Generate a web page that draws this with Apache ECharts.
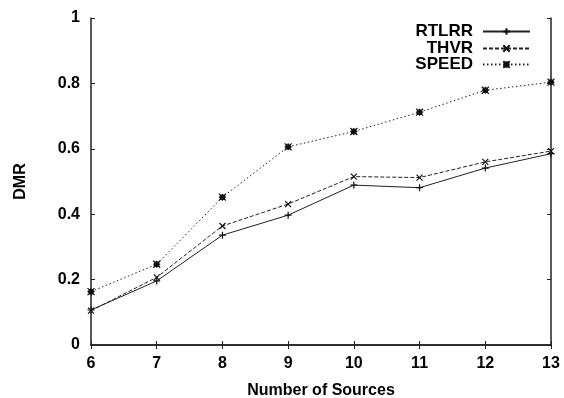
<!DOCTYPE html>
<html>
<head>
<meta charset="utf-8">
<script src="https://cdn.jsdelivr.net/npm/echarts@6/dist/echarts.min.js"></script>
<style>
  html, body { margin: 0; padding: 0; background: #fff; }
  #chart { width: 564px; height: 398px; }
</style>
</head>
<body>
<div id="chart"></div>
<script>
// Number of sources on the x axis
const sources = [6, 7, 8, 9, 10, 11, 12, 13];
// DMR per scheme
const rtlrr = [0.107, 0.196, 0.336, 0.397, 0.489, 0.481, 0.541, 0.585];
const thvr  = [0.105, 0.207, 0.364, 0.431, 0.515, 0.512, 0.560, 0.593];
const speed = [0.163, 0.247, 0.452, 0.606, 0.653, 0.712, 0.779, 0.804];
const seriesNames = ['RTLRR', 'THVR', 'SPEED'];

const FONT = '"Liberation Sans", Arial, sans-serif';
const plusPath  = 'path://M0,5L10,5M5,0L5,10';
const crossPath = 'path://M0,0L10,10M10,0L0,10';
const starPath  = 'path://M0,5L10,5M5,0L5,10M0,0L10,10M10,0L0,10M2,2L8,2L8,8L2,8Z';

function pairs(vals) { return sources.map((s, i) => [s, vals[i]]); }

function makeSeries(name, vals, symbol, dash, col, size) {
  return {
    name: name,
    type: 'line',
    data: pairs(vals),
    symbol: symbol,
    symbolSize: size,
    showAllSymbol: true,
    lineStyle: { color: col, width: 1, type: dash },
    itemStyle: { color: 'none', borderColor: '#111', borderWidth: 1.2 },
    emphasis: { disabled: true },
    animation: false,
    z: 3
  };
}

function legendFor(name, top) {
  return {
    data: [name],
    orient: 'vertical',
    right: 33,
    top: top,
    align: 'right',
    itemWidth: 47,
    itemHeight: 8,
    itemGap: 0,
    padding: 0,
    selectedMode: false,
    textStyle: { fontFamily: FONT, fontSize: 17, fontWeight: 'bold', color: '#000', padding: [0, 5, 0, 0] }
  };
}

const axisLine = { show: true, lineStyle: { color: '#222', width: 1.5 } };
const tick = { show: true, inside: true, length: 4, lineStyle: { color: '#222', width: 1 } };

const chart = echarts.init(document.getElementById('chart'), null, { renderer: 'canvas' });
chart.setOption({
  backgroundColor: '#fff',
  animation: false,
  grid: { left: 91, right: 13, top: 18, bottom: 53, containLabel: false, outerBoundsMode: 'none' },
  legend: [legendFor('RTLRR', 23), legendFor('THVR', 40), legendFor('SPEED', 56)],
  xAxis: [{
    type: 'value', min: 6, max: 13, interval: 1,
    name: 'Number of Sources', nameLocation: 'middle', nameGap: 38,
    nameTextStyle: { fontFamily: FONT, fontSize: 16, fontWeight: 'bold', color: '#000' },
    axisLine: axisLine, axisTick: tick, splitLine: { show: false },
    axisLabel: { fontFamily: FONT, fontSize: 16, fontWeight: 'bold', color: '#000', margin: 11 }
  }, {
    type: 'value', min: 6, max: 13, interval: 1, position: 'top',
    axisLine: axisLine, axisTick: tick, splitLine: { show: false }, axisLabel: { show: false }
  }],
  yAxis: [{
    type: 'value', min: 0, max: 1, interval: 0.2,
    name: 'DMR', nameLocation: 'middle', nameGap: 62,
    nameTextStyle: { fontFamily: FONT, fontSize: 16, fontWeight: 'bold', color: '#000' },
    axisLine: axisLine, axisTick: tick, splitLine: { show: false },
    axisLabel: { fontFamily: FONT, fontSize: 16, fontWeight: 'bold', color: '#000', margin: 11,
      padding: [6, 0, 0, 0],
      formatter: v => String(Math.round(v * 10) / 10) }
  }, {
    type: 'value', min: 0, max: 1, interval: 0.2, position: 'right',
    axisLine: axisLine, axisTick: tick, splitLine: { show: false }, axisLabel: { show: false }
  }],
  series: [
    makeSeries(seriesNames[0], rtlrr, plusPath, 'solid', '#222', 7),
    makeSeries(seriesNames[1], thvr, crossPath, [4, 2], '#222', 6),
    makeSeries(seriesNames[2], speed, starPath, [1.5, 2.5], '#222', 7)
  ]
});
</script>
</body>
</html>
